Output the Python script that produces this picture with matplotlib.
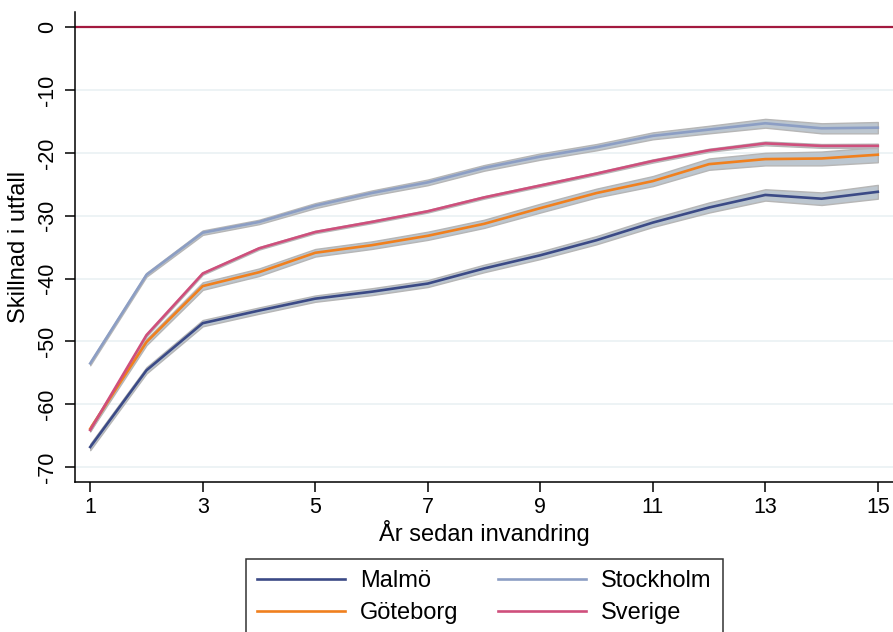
import numpy as np
import matplotlib.pyplot as plt

plt.rcParams['font.family'] = ['Liberation Sans', 'DejaVu Sans']

years = list(range(1, 16))

malmo = [-66.8, -54.6, -47.1, -45.1, -43.2, -42.1, -40.8, -38.4, -36.3, -33.9, -31.1, -28.7, -26.7, -27.3, -26.2]
goteborg = [-63.9, -50.1, -41.2, -39.0, -35.9, -34.7, -33.2, -31.3, -28.8, -26.4, -24.5, -21.8, -21.0, -20.9, -20.3]
stockholm = [-53.5, -39.4, -32.7, -31.0, -28.4, -26.4, -24.7, -22.4, -20.6, -19.1, -17.3, -16.3, -15.3, -16.1, -16.0]
sverige = [-64.1, -49.0, -39.2, -35.2, -32.6, -31.0, -29.3, -27.1, -25.2, -23.3, -21.3, -19.6, -18.5, -18.9, -18.9]

# half width of the confidence bands
malmo_ci = [0.5, 0.5, 0.5, 0.5, 0.5, 0.55, 0.55, 0.6, 0.6, 0.65, 0.7, 0.8, 0.9, 1.0, 1.1]
goteborg_ci = [0.4, 0.5, 0.6, 0.6, 0.6, 0.6, 0.65, 0.65, 0.7, 0.7, 0.8, 0.9, 1.0, 1.1, 1.2]
stockholm_ci = [0.3, 0.3, 0.35, 0.35, 0.4, 0.4, 0.45, 0.45, 0.5, 0.5, 0.55, 0.6, 0.7, 0.8, 0.9]
sverige_ci = [0.2, 0.2, 0.2, 0.2, 0.2, 0.2, 0.2, 0.2, 0.2, 0.2, 0.25, 0.25, 0.3, 0.3, 0.35]

names = ['Malmö', 'Göteborg', 'Stockholm', 'Sverige']
series = [malmo, goteborg, stockholm, sverige]
cis = [malmo_ci, goteborg_ci, stockholm_ci, sverige_ci]
colors = ['#3b4a86', '#f0801e', '#8c9ec4', '#cf4f7c']

fig = plt.figure(figsize=(8.93, 6.32), dpi=100)
ax = fig.add_axes([0.084, 0.237, 0.916, 0.744])

x = np.array(years)
ax.axhline(0, color='#a3193f', lw=1.6, zorder=2)
lines = {}
for name, y, ci, c in zip(names, series, cis, colors):
    y = np.array(y)
    ci = np.array(ci)
    ax.fill_between(x, y - ci, y + ci, facecolor='#bcc6cf', edgecolor='#b6b6b6', lw=1.0, zorder=3)
    ln, = ax.plot(x, y, color=c, lw=1.9, zorder=4)
    lines[name] = ln

ax.set_xlim(0.73, 15.27)
ax.set_ylim(-72.4, 2.4)
ax.set_xticks([1, 3, 5, 7, 9, 11, 13, 15])
ax.set_yticks([0, -10, -20, -30, -40, -50, -60, -70])
ax.set_yticklabels(['0', '-10', '-20', '-30', '-40', '-50', '-60', '-70'], rotation=90, va='center')
for v in [-10, -20, -30, -40, -50, -60, -70]:
    ax.axhline(v, color='#eaf1f3', lw=1.2, zorder=1)

ax.spines['top'].set_visible(False)
ax.spines['right'].set_visible(False)
ax.tick_params(labelsize=15.5, length=7, width=1.1)
ax.tick_params(axis='x', pad=4)
ax.tick_params(axis='y', pad=5)
ax.spines['left'].set_linewidth(1.1)
ax.spines['bottom'].set_linewidth(1.1)
ax.set_xlabel('År sedan invandring', fontsize=17, labelpad=1)
ax.set_ylabel('Skillnad i utfall', fontsize=17, labelpad=5)

handles = [lines['Malmö'], lines['Göteborg'], lines['Stockholm'], lines['Sverige']]
leg = fig.legend(handles, ['Malmö', 'Göteborg', 'Stockholm', 'Sverige'], ncol=2,
                 loc='upper left', bbox_to_anchor=(0.275, 0.116), fontsize=17,
                 frameon=True, fancybox=False, edgecolor='black', handlelength=3.7,
                 handletextpad=0.64, columnspacing=1.7, labelspacing=0.42,
                 borderpad=0.5, borderaxespad=0)
leg.get_frame().set_linewidth(1.1)

fig.savefig('out.png', dpi=100)
